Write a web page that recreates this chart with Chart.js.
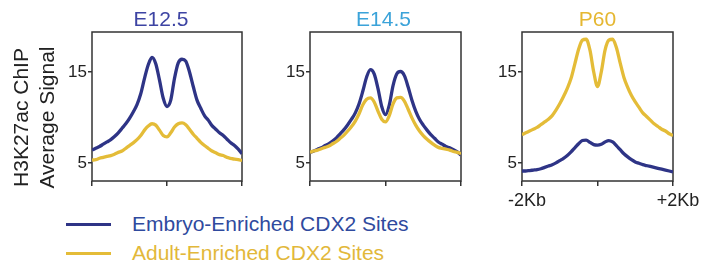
<!DOCTYPE html>
<html>
<head>
<meta charset="utf-8">
<script src="https://cdn.jsdelivr.net/npm/chart.js@4.4.0/dist/chart.umd.min.js"></script>
<style>
  body { margin: 0; background: #fff; width: 702px; height: 267px; overflow: hidden; position: relative;
         font-family: "Liberation Sans", Arial, sans-serif; }
  canvas { position: absolute; top: 0; }
  .key { position: absolute; left: 66px; width: 45px; height: 3.5px; }
  .key-label { position: absolute; left: 132px; font-size: 21px; line-height: 21px; white-space: nowrap; }
</style>
</head>
<body>
<canvas id="p1" width="250" height="212" style="left:0px"></canvas>
<canvas id="p2" width="208" height="212" style="left:262px"></canvas>
<canvas id="p3" width="228" height="212" style="left:474px"></canvas>

<div class="key" style="top:222.5px; background:#2e3486"></div>
<div class="key-label" style="top:213px; color:#2f4a9e">Embryo-Enriched CDX2 Sites</div>
<div class="key" style="top:251.5px; background:#e4bc38"></div>
<div class="key-label" style="top:241.5px; color:#e2b83a">Adult-Enriched CDX2 Sites</div>

<script>
// distance from site centre, Kb
const positionsKb = [-2.0, -1.9, -1.8, -1.7, -1.6, -1.5, -1.4, -1.3, -1.2, -1.1, -1.0, -0.9, -0.8, -0.7, -0.6, -0.5, -0.4, -0.3, -0.2, -0.1,
                     0.0, 0.1, 0.2, 0.3, 0.4, 0.5, 0.6, 0.7, 0.8, 0.9, 1.0, 1.1, 1.2, 1.3, 1.4, 1.5, 1.6, 1.7, 1.8, 1.9, 2.0];
const yTickValues = [5, 15];

const e125Embryo = [6.4, 6.6, 6.8, 7.05, 7.3, 7.55, 7.9, 8.3, 8.8, 9.3, 9.9, 10.6, 11.4, 12.6, 14.3, 15.8, 16.6, 15.9, 14.1, 12.1,
                    11.2, 11.9, 14.3, 16.0, 16.4, 16.2, 15.0, 13.4, 11.9, 11.0, 10.2, 9.7, 9.1, 8.7, 8.3, 8.0, 7.6, 7.2, 6.9, 6.5, 6.0];
const e125Adult = [5.3, 5.35, 5.5, 5.6, 5.7, 5.8, 5.95, 6.15, 6.3, 6.6, 6.9, 7.2, 7.55, 8.0, 8.6, 9.05, 9.3, 9.15, 8.6, 8.0,
                   7.85, 8.3, 8.95, 9.3, 9.4, 9.2, 8.7, 8.15, 7.7, 7.25, 6.9, 6.6, 6.3, 6.1, 5.9, 5.8, 5.6, 5.5, 5.4, 5.35, 5.25];

const e145Embryo = [6.15, 6.3, 6.5, 6.65, 6.9, 7.1, 7.4, 7.75, 8.2, 8.65, 9.2, 9.8, 10.5, 11.5, 12.9, 14.45, 15.25, 14.8, 13.2, 11.2,
                    10.3, 11.35, 13.5, 14.8, 15.05, 14.6, 13.35, 11.9, 10.7, 9.8, 9.15, 8.6, 8.1, 7.7, 7.3, 7.05, 6.8, 6.65, 6.45, 6.2, 5.85];
const e145Adult = [6.15, 6.3, 6.4, 6.55, 6.7, 6.85, 7.1, 7.35, 7.7, 8.05, 8.5, 9.0, 9.6, 10.4, 11.4, 12.0, 12.15, 11.7, 10.7, 9.8,
                   9.5, 10.2, 11.5, 12.15, 12.2, 11.8, 10.9, 9.95, 9.15, 8.5, 8.0, 7.6, 7.25, 6.95, 6.7, 6.6, 6.5, 6.4, 6.25, 6.15, 6.0];

const p60Embryo = [4.1, 4.1, 4.15, 4.2, 4.25, 4.35, 4.5, 4.65, 4.8, 5.0, 5.25, 5.5, 5.8, 6.2, 6.65, 7.1, 7.45, 7.5, 7.25, 7.0,
                   6.95, 7.05, 7.3, 7.45, 7.3, 6.9, 6.45, 6.0, 5.65, 5.35, 5.1, 4.95, 4.8, 4.7, 4.6, 4.5, 4.4, 4.3, 4.2, 4.1, 4.0];
const p60Adult = [8.1, 8.3, 8.5, 8.7, 8.9, 9.2, 9.5, 9.8, 10.2, 10.8, 11.5, 12.3, 13.2, 14.3, 15.9, 17.5, 18.5, 18.6, 17.4, 15.0,
                  13.4, 15.0, 17.4, 18.5, 18.6, 17.7, 16.0, 14.4, 13.3, 12.4, 11.7, 11.1, 10.5, 10.1, 9.7, 9.3, 9.0, 8.7, 8.5, 8.2, 8.0];

const NAVY = '#2e3486';
const GOLD = '#e4bc38';
const INK = '#222';

Chart.defaults.font.family = '"Liberation Sans", Arial, sans-serif';

// box round the plot area
const framePlugin = {
  id: 'frame',
  beforeDatasetsDraw(chart) {
    const { ctx, chartArea: a } = chart;
    ctx.save();
    ctx.strokeStyle = '#333';
    ctx.lineWidth = 1.5;
    ctx.strokeRect(a.left, a.top, a.right - a.left, a.bottom - a.top);
    ctx.restore();
  }
};

// stage name above each panel, y title on the first one
const panelTitle = {
  id: 'panelTitle',
  afterDraw(chart, args, opts) {
    const { ctx, chartArea: a } = chart;
    ctx.save();
    ctx.font = '21px "Liberation Sans", Arial, sans-serif';
    ctx.fillStyle = opts.color;
    ctx.textAlign = 'center';
    ctx.textBaseline = 'alphabetic';
    ctx.fillText(opts.text, (a.left + a.right) / 2 + opts.dx, 26);
    if (opts.yTitle) {
      ctx.fillStyle = INK;
      opts.yTitle.forEach((line, i) => {
        ctx.save();
        ctx.translate(28 + i * 26, 117.5);
        ctx.rotate(-Math.PI / 2);
        ctx.fillText(line, 0, 0);
        ctx.restore();
      });
    }
    ctx.restore();
  }
};

function toPoints(values) {
  return values.map((v, i) => ({ x: positionsKb[i], y: v }));
}

function makePanel(id, title, titleColor, titleDx, embryo, adult, yWidth, padRight, showKb, yTitle) {
  return new Chart(document.getElementById(id), {
    type: 'line',
    data: {
      datasets: [
        { label: 'Adult-Enriched CDX2 Sites', data: toPoints(adult), borderColor: GOLD },
        { label: 'Embryo-Enriched CDX2 Sites', data: toPoints(embryo), borderColor: NAVY }
      ]
    },
    options: {
      responsive: false,
      devicePixelRatio: 1,
      animation: false,
      layout: { padding: { top: 32, right: padRight, left: 0, bottom: 0 } },
      elements: {
        line: { borderWidth: 3.3, cubicInterpolationMode: 'monotone', fill: false },
        point: { radius: 0 }
      },
      scales: {
        x: {
          type: 'linear', min: -2, max: 2,
          afterBuildTicks: s => { s.ticks = [{ value: -2 }, { value: 0 }, { value: 2 }]; },
          afterFit: s => { s.height = 31; },
          border: { display: false },
          grid: { drawOnChartArea: false, drawTicks: true, tickLength: 5, color: '#333', lineWidth: 1.5 },
          ticks: {
            autoSkip: false, maxRotation: 0, padding: 4, labelOffset: 5,
            color: INK, font: { size: 18 },
            callback: v => !showKb ? '' : (v === -2 ? '-2Kb' : (v === 2 ? '+2Kb' : ''))
          }
        },
        y: {
          min: 3, max: 19.4,
          afterBuildTicks: s => { s.ticks = yTickValues.map(v => ({ value: v })); },
          afterFit: s => { s.width = yWidth; },
          border: { display: false },
          grid: { drawOnChartArea: false, drawTicks: true, tickLength: 4, color: '#333', lineWidth: 1.5 },
          ticks: { padding: 1, color: INK, font: { size: 17 } }
        }
      },
      plugins: {
        legend: { display: false },
        tooltip: { enabled: false },
        panelTitle: { text: title, color: titleColor, dx: titleDx, yTitle: yTitle }
      }
    },
    plugins: [framePlugin, panelTitle]
  });
}

makePanel('p1', 'E12.5', '#3d44a3', -6, e125Embryo, e125Adult, 92, 8, false, ['H3K27ac ChIP', 'Average Signal']);
makePanel('p2', 'E14.5', '#3ba3d9', -2, e145Embryo, e145Adult, 48, 9, false, null);
makePanel('p3', 'P60', '#e5b731', 0, p60Embryo, p60Adult, 48, 29, true, null);
</script>
</body>
</html>
